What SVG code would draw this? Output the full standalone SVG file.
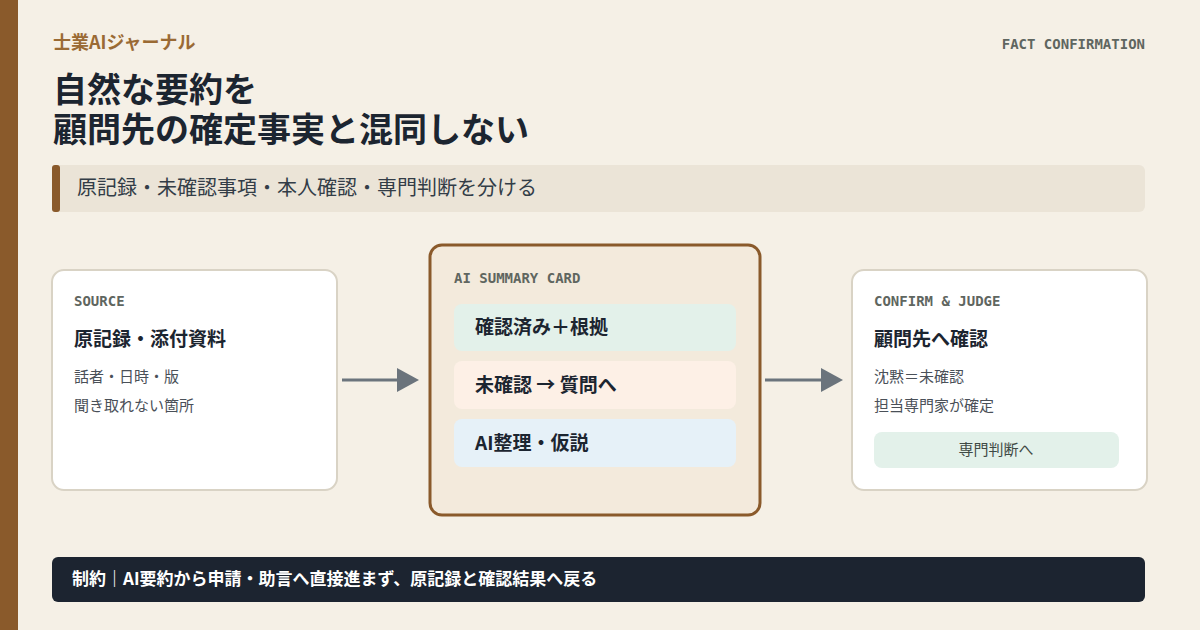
<svg xmlns="http://www.w3.org/2000/svg" width="1200" height="630" viewBox="0 0 1200 630">
<defs>
<style>
.jp{font-family:"Noto Sans CJK JP","Noto Sans",sans-serif}
.mono{font-family:"DejaVu Sans Mono","Liberation Mono",monospace;font-weight:bold;font-size:14px;fill:#5f6660}
.card{fill:#ffffff;stroke:#d9d3c5;stroke-width:2}
.h{font-size:19px;font-weight:bold;fill:#1c2530}
.s{font-size:15px;fill:#4a5058}
.conn{stroke:#6b747c;stroke-width:3;fill:none}
</style>
</defs>
<rect x="0" y="0" width="1200" height="630" fill="#f5f0e6"/>
<rect x="0" y="0" width="18" height="630" fill="#8a5a2b"/>
<g id="header">
<text x="53" y="49" class="jp" font-size="18" font-weight="bold" fill="#9a6a34">士業AIジャーナル</text>
<text x="1145" y="49" class="mono" text-anchor="end">FACT CONFIRMATION</text>
<text x="53" y="102" class="jp" font-size="34" font-weight="bold" fill="#1c2530">自然な要約を</text>
<text x="53" y="142" class="jp" font-size="34" font-weight="bold" fill="#1c2530">顧問先の確定事実と混同しない</text>
</g>
<g id="subtitle">
<rect x="52" y="165" width="1093" height="47" rx="6" fill="#ebe4d7"/>
<rect x="52" y="165" width="8" height="47" rx="3" fill="#8a5a2b"/>
<text x="77" y="195" class="jp" font-size="20" fill="#333d47">原記録・未確認事項・本人確認・専門判断を分ける</text>
</g>
<g id="source">
<rect x="52" y="270" width="285" height="220" rx="12" class="card"/>
<text x="74" y="306" class="mono">SOURCE</text>
<text x="74" y="346" class="jp h">原記録・添付資料</text>
<text x="74" y="382" class="jp s">話者・日時・版</text>
<text x="74" y="411" class="jp s">聞き取れない箇所</text>
</g>
<g id="summary">
<rect x="430" y="245" width="330" height="270" rx="12" fill="#f3eadc" stroke="#8a5a2b" stroke-width="3"/>
<text x="454" y="283" class="mono">AI SUMMARY CARD</text>
<rect x="454" y="304" width="282" height="47" rx="8" fill="#e3f1ea"/>
<text x="475" y="334" class="jp h">確認済み＋根拠</text>
<rect x="454" y="361" width="282" height="48" rx="8" fill="#fdf0e6"/>
<text x="475" y="392" class="jp h">未確認 → 質問へ</text>
<rect x="454" y="419" width="282" height="48" rx="8" fill="#e6f1f8"/>
<text x="475" y="450" class="jp h">AI整理・仮説</text>
</g>
<g id="confirm">
<rect x="852" y="270" width="295" height="220" rx="12" class="card"/>
<text x="874" y="306" class="mono">CONFIRM &amp; JUDGE</text>
<text x="874" y="346" class="jp h">顧問先へ確認</text>
<text x="874" y="382" class="jp s">沈黙＝未確認</text>
<text x="874" y="411" class="jp s">担当専門家が確定</text>
<rect x="874" y="432" width="245" height="36" rx="8" fill="#e3f1ea"/>
<text x="996" y="455" class="jp" font-size="15" fill="#3f4a45" text-anchor="middle">専門判断へ</text>
</g>
<g id="connectors">
<line x1="342" y1="380" x2="398" y2="380" class="conn"/>
<path d="M397,368 L419,380 L397,392 Z" fill="#6b747c"/>
<line x1="765" y1="380" x2="822" y2="380" class="conn"/>
<path d="M821,368 L843,380 L821,392 Z" fill="#6b747c"/>
</g>
<g id="footer">
<rect x="52" y="557" width="1093" height="45" rx="6" fill="#1c2430"/>
<text x="72" y="585" class="jp" font-size="17" font-weight="bold" fill="#ffffff">制約｜AI要約から申請・助言へ直接進まず、原記録と確認結果へ戻る</text>
</g>
</svg>
